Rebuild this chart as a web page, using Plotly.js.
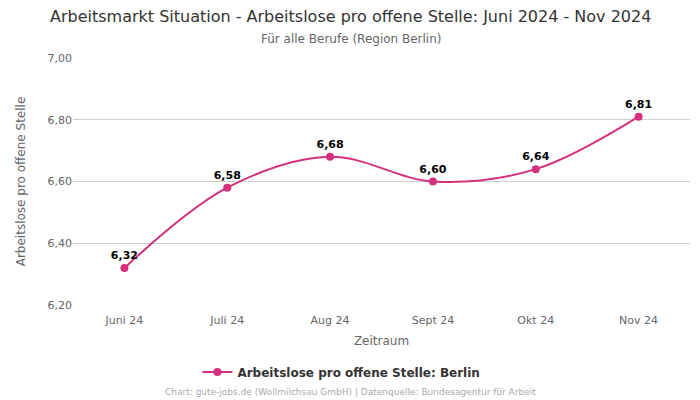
<!DOCTYPE html>
<html><head><meta charset="utf-8">
<script src="https://cdn.plot.ly/plotly-3.0.1.min.js"></script>
<style>html,body{margin:0;padding:0;background:#fff}#chart{width:700px;height:400px}</style>
</head><body><div id="chart"></div>
<script>
const months = ["Juni 24","Juli 24","Aug 24","Sept 24","Okt 24","Nov 24"];
const values = [6.32, 6.58, 6.68, 6.60, 6.64, 6.81];
const yTicks = [6.2, 6.4, 6.6, 6.8, 7.0];
const seriesName = "Arbeitslose pro offene Stelle: Berlin";
const color = "#d4307d";
const fnt = "DejaVu Sans, sans-serif";

const trace = {
  x: months, y: values, type: "scatter", mode: "lines+markers+text",
  name: seriesName,
  line: {color: color, width: 2, shape: "spline", smoothing: 1},
  marker: {color: color, size: 8},
  text: values.map(v => "<b>" + v.toFixed(2).replace(".", ",") + "</b>"),
  textposition: "top center",
  textfont: {family: fnt, size: 11, color: "#000"},
  cliponaxis: false
};
const layout = {
  width: 700, height: 400,
  margin: {l: 73, r: 10, t: 58, b: 95},
  paper_bgcolor: "#fff", plot_bgcolor: "#fff",
  separators: ",.",
  font: {family: fnt, color: "#666", size: 11},
  xaxis: {type: "category", range: [-0.5, 5.5], showgrid: false, zeroline: false, showline: false,
          automargin: false, ticks: "", ticklabelstandoff: 7, tickfont: {size: 11, color: "#666"},
          title: {text: "Zeitraum", font: {size: 12, color: "#666"}, standoff: 10}},
  yaxis: {range: [6.2, 7.0], tickvals: yTicks, tickformat: ".2f", gridcolor: "#d0d0d0", gridwidth: 1,
          automargin: false, zeroline: false, showline: false, ticks: "", tickfont: {size: 11, color: "#666"},
          title: {text: "Arbeitslose pro offene Stelle", font: {size: 12, color: "#666"}, standoff: 19}},
  showlegend: true,
  legend: {orientation: "h", x: 0.435, xanchor: "center", yref: "container", y: 0.07, yanchor: "middle",
           font: {family: fnt, size: 12, color: "#333", weight: "bold"}},
  annotations: [
    {text: "Arbeitsmarkt Situation - Arbeitslose pro offene Stelle: Juni 2024 - Nov 2024",
     xref: "paper", yref: "paper", x: 0.45, y: 1.166, xanchor: "center", yanchor: "middle",
     showarrow: false, font: {family: fnt, size: 16, color: "#333"}},
    {text: "Für alle Berufe (Region Berlin)",
     xref: "paper", yref: "paper", x: 0.45, y: 1.077, xanchor: "center", yanchor: "middle",
     showarrow: false, font: {family: fnt, size: 12, color: "#666"}},
    {text: "Chart: gute-jobs.de (Wollmilchsau GmbH) | Datenquelle: Bundesagentur für Arbeit",
     xref: "paper", yref: "paper", x: 0.45, y: -0.352, xanchor: "center", yanchor: "middle",
     showarrow: false, font: {family: fnt, size: 9, color: "#aaa"}}]
};
Plotly.newPlot("chart", [trace], layout, {displayModeBar: false, staticPlot: true});
</script></body></html>
